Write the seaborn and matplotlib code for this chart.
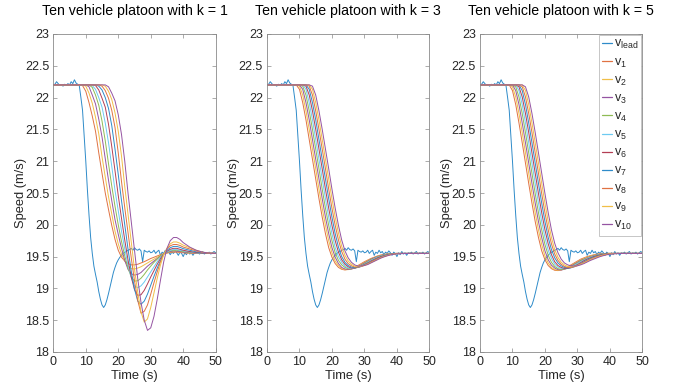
import numpy as np
import pandas as pd
import matplotlib
matplotlib.use("Agg")
import matplotlib.pyplot as plt
from matplotlib.lines import Line2D
from matplotlib.colors import to_rgb
import seaborn as sns

# ---------------- data ----------------
TITLES = ["Ten vehicle platoon with k = 1", "Ten vehicle platoon with k = 3", "Ten vehicle platoon with k = 5"]
LABELS = ["$v_{lead}$", "$v_1$", "$v_2$", "$v_3$", "$v_4$", "$v_5$", "$v_6$", "$v_7$", "$v_8$", "$v_9$", "$v_{10}$"]
X_TICKS = [0, 10, 20, 30, 40, 50]
Y_TICKS = [18, 18.5, 19, 19.5, 20, 20.5, 21, 21.5, 22, 22.5, 23]

# lead vehicle speed, sampled every 0.5 s from 0 to 50 s
LEAD_T = np.arange(0, 50.5, 0.5)
LEAD_V = [22.2, 22.21, 22.25, 22.22, 22.19, 22.2, 22.18, 22.21, 22.19, 22.22,
          22.2, 22.25, 22.22, 22.28, 22.23, 22.21, 22.19, 22.0, 21.8, 21.4,
          21.0, 20.55, 20.15, 19.8, 19.55, 19.35, 19.22, 19.1, 18.95, 18.83,
          18.74, 18.7, 18.74, 18.82, 18.92, 19.03, 19.14, 19.25, 19.33, 19.4,
          19.45, 19.49, 19.52, 19.55, 19.57, 19.58, 19.6, 19.61, 19.63, 19.6,
          19.64, 19.61, 19.6, 19.62, 19.59, 19.42, 19.6, 19.58, 19.57, 19.59,
          19.56, 19.57, 19.6, 19.55, 19.58, 19.6, 19.52, 19.57, 19.55, 19.6,
          19.56, 19.58, 19.53, 19.57, 19.55, 19.59, 19.56, 19.52, 19.57, 19.55,
          19.5, 19.56, 19.53, 19.58, 19.54, 19.56, 19.52, 19.56, 19.55, 19.57,
          19.54, 19.56, 19.58, 19.54, 19.56, 19.55, 19.57, 19.54, 19.56, 19.58,
          19.56]

# follower sample times (s)
FOL_T = [0, 2, 4, 6, 8, 9, 10, 11, 12, 13, 14, 15, 16, 17, 18, 19, 20, 21, 22, 23, 24,
         25, 26, 27, 28, 29, 30, 31, 32, 33, 34, 35, 36, 37, 38, 39, 40, 42, 44, 46, 48, 50]

# ---- k = 1 ----
K1_V1 = [22.2, 22.2, 22.2, 22.2, 22.2, 22.19, 22.1, 21.92, 21.71, 21.47, 21.13, 20.81, 20.5, 20.24, 19.99, 19.77, 19.6, 19.49, 19.43, 19.39, 19.37, 19.37, 19.38, 19.4, 19.42, 19.445, 19.47, 19.49, 19.51, 19.53, 19.545, 19.555, 19.565, 19.57, 19.57, 19.565, 19.56, 19.555, 19.55, 19.55, 19.55, 19.55]
K1_V2 = [22.2, 22.2, 22.2, 22.2, 22.2, 22.2, 22.18, 22.07, 21.91, 21.69, 21.43, 21.07, 20.75, 20.44, 20.17, 19.9, 19.7, 19.54, 19.43, 19.35, 19.31, 19.305, 19.32, 19.34, 19.37, 19.4, 19.43, 19.46, 19.49, 19.52, 19.545, 19.56, 19.575, 19.58, 19.58, 19.575, 19.565, 19.56, 19.555, 19.55, 19.55, 19.55]
K1_V3 = [22.2, 22.2, 22.2, 22.2, 22.2, 22.2, 22.2, 22.17, 22.04, 21.9, 21.66, 21.38, 21.04, 20.7, 20.38, 20.08, 19.85, 19.63, 19.44, 19.3, 19.23, 19.21, 19.22, 19.25, 19.3, 19.35, 19.39, 19.43, 19.47, 19.51, 19.545, 19.565, 19.58, 19.59, 19.585, 19.58, 19.57, 19.565, 19.555, 19.55, 19.55, 19.55]
K1_V4 = [22.2, 22.2, 22.2, 22.2, 22.2, 22.2, 22.2, 22.2, 22.16, 22.04, 21.88, 21.63, 21.32, 20.96, 20.61, 20.29, 20.0, 19.74, 19.51, 19.32, 19.18, 19.115, 19.12, 19.16, 19.22, 19.29, 19.35, 19.41, 19.46, 19.51, 19.545, 19.57, 19.59, 19.6, 19.6, 19.59, 19.58, 19.57, 19.56, 19.555, 19.55, 19.55]
K1_V5 = [22.2, 22.2, 22.2, 22.2, 22.2, 22.2, 22.2, 22.2, 22.19, 22.13, 22.0, 21.85, 21.6, 21.29, 20.92, 20.54, 20.22, 19.9, 19.62, 19.37, 19.17, 19.04, 19.01, 19.04, 19.1, 19.18, 19.26, 19.34, 19.42, 19.49, 19.54, 19.575, 19.6, 19.61, 19.61, 19.6, 19.59, 19.575, 19.56, 19.555, 19.55, 19.55]
K1_V6 = [22.2, 22.2, 22.2, 22.2, 22.2, 22.2, 22.2, 22.2, 22.2, 22.19, 22.12, 21.99, 21.85, 21.58, 21.23, 20.85, 20.46, 20.1, 19.76, 19.45, 19.18, 18.98, 18.89, 18.9, 18.97, 19.07, 19.18, 19.28, 19.38, 19.47, 19.54, 19.585, 19.615, 19.63, 19.63, 19.615, 19.6, 19.58, 19.565, 19.555, 19.55, 19.55]
K1_V7 = [22.2, 22.2, 22.2, 22.2, 22.2, 22.2, 22.2, 22.2, 22.2, 22.2, 22.18, 22.12, 22.0, 21.83, 21.56, 21.19, 20.79, 20.38, 20.0, 19.62, 19.27, 18.99, 18.8, 18.75, 18.8, 18.91, 19.05, 19.19, 19.32, 19.44, 19.54, 19.6, 19.64, 19.66, 19.66, 19.645, 19.625, 19.6, 19.575, 19.56, 19.555, 19.55]
K1_V8 = [22.2, 22.2, 22.2, 22.2, 22.2, 22.2, 22.2, 22.2, 22.2, 22.2, 22.2, 22.18, 22.11, 21.99, 21.8, 21.53, 21.13, 20.68, 20.27, 19.88, 19.48, 19.12, 18.81, 18.61, 18.64, 18.74, 18.91, 19.09, 19.26, 19.42, 19.54, 19.62, 19.67, 19.69, 19.69, 19.675, 19.65, 19.62, 19.59, 19.565, 19.555, 19.55]
K1_V9 = [22.2, 22.2, 22.2, 22.2, 22.2, 22.2, 22.2, 22.2, 22.2, 22.2, 22.2, 22.2, 22.18, 22.1, 21.97, 21.76, 21.47, 21.08, 20.6, 20.17, 19.73, 19.3, 18.94, 18.63, 18.47, 18.52, 18.7, 18.93, 19.16, 19.37, 19.53, 19.63, 19.7, 19.73, 19.73, 19.71, 19.68, 19.64, 19.6, 19.57, 19.555, 19.55]
K1_V10 = [22.2, 22.2, 22.2, 22.2, 22.2, 22.2, 22.2, 22.2, 22.2, 22.2, 22.2, 22.2, 22.2, 22.17, 22.07, 21.95, 21.73, 21.42, 21.0, 20.5, 20.05, 19.6, 19.15, 18.78, 18.5, 18.34, 18.38, 18.56, 18.83, 19.13, 19.42, 19.63, 19.75, 19.8, 19.8, 19.77, 19.72, 19.65, 19.6, 19.57, 19.555, 19.55]

# ---- k = 3 ----
K3_V1 = [22.2, 22.2, 22.2, 22.2, 22.2, 22.2, 22.13, 21.92, 21.65, 21.34, 21.03, 20.72, 20.41, 20.12, 19.86, 19.64, 19.49, 19.39, 19.33, 19.3, 19.29, 19.3, 19.31, 19.33, 19.36, 19.39, 19.42, 19.445, 19.47, 19.49, 19.51, 19.525, 19.535, 19.54, 19.545, 19.548, 19.55, 19.55, 19.55, 19.55, 19.55, 19.55]
K3_V2 = [22.2, 22.2, 22.2, 22.2, 22.2, 22.2, 22.18, 22.04, 21.79, 21.5, 21.19, 20.88, 20.56, 20.26, 19.99, 19.75, 19.56, 19.43, 19.36, 19.31, 19.295, 19.295, 19.305, 19.32, 19.35, 19.38, 19.41, 19.44, 19.465, 19.485, 19.505, 19.52, 19.53, 19.54, 19.545, 19.548, 19.55, 19.55, 19.55, 19.55, 19.55, 19.55]
K3_V3 = [22.2, 22.2, 22.2, 22.2, 22.2, 22.2, 22.2, 22.13, 21.92, 21.65, 21.34, 21.03, 20.72, 20.41, 20.12, 19.86, 19.64, 19.49, 19.39, 19.33, 19.305, 19.3, 19.305, 19.32, 19.34, 19.37, 19.4, 19.43, 19.46, 19.48, 19.5, 19.515, 19.53, 19.538, 19.544, 19.548, 19.55, 19.55, 19.55, 19.55, 19.55, 19.55]
K3_V4 = [22.2, 22.2, 22.2, 22.2, 22.2, 22.2, 22.2, 22.18, 22.04, 21.79, 21.5, 21.19, 20.88, 20.56, 20.26, 19.99, 19.75, 19.56, 19.44, 19.37, 19.33, 19.31, 19.31, 19.32, 19.34, 19.36, 19.39, 19.42, 19.45, 19.47, 19.495, 19.51, 19.525, 19.535, 19.542, 19.547, 19.55, 19.55, 19.55, 19.55, 19.55, 19.55]
K3_V5 = [22.2, 22.2, 22.2, 22.2, 22.2, 22.2, 22.2, 22.2, 22.13, 21.92, 21.65, 21.34, 21.03, 20.72, 20.41, 20.12, 19.86, 19.64, 19.5, 19.41, 19.35, 19.32, 19.315, 19.32, 19.33, 19.355, 19.38, 19.41, 19.44, 19.465, 19.49, 19.505, 19.52, 19.532, 19.54, 19.546, 19.55, 19.55, 19.55, 19.55, 19.55, 19.55]
K3_V6 = [22.2, 22.2, 22.2, 22.2, 22.2, 22.2, 22.2, 22.2, 22.18, 22.04, 21.79, 21.5, 21.19, 20.88, 20.56, 20.26, 19.99, 19.75, 19.57, 19.45, 19.38, 19.34, 19.32, 19.32, 19.33, 19.35, 19.375, 19.4, 19.43, 19.455, 19.48, 19.5, 19.515, 19.528, 19.538, 19.545, 19.55, 19.55, 19.55, 19.55, 19.55, 19.55]
K3_V7 = [22.2, 22.2, 22.2, 22.2, 22.2, 22.2, 22.2, 22.2, 22.2, 22.13, 21.92, 21.65, 21.34, 21.03, 20.72, 20.41, 20.12, 19.86, 19.65, 19.5, 19.41, 19.36, 19.335, 19.325, 19.33, 19.345, 19.37, 19.395, 19.42, 19.445, 19.47, 19.49, 19.51, 19.525, 19.535, 19.543, 19.548, 19.549, 19.55, 19.55, 19.55, 19.55]
K3_V8 = [22.2, 22.2, 22.2, 22.2, 22.2, 22.2, 22.2, 22.2, 22.2, 22.18, 22.04, 21.79, 21.5, 21.19, 20.88, 20.56, 20.26, 19.99, 19.76, 19.58, 19.46, 19.39, 19.355, 19.335, 19.335, 19.345, 19.365, 19.39, 19.415, 19.44, 19.465, 19.485, 19.505, 19.52, 19.532, 19.541, 19.547, 19.549, 19.55, 19.55, 19.55, 19.55]
K3_V9 = [22.2, 22.2, 22.2, 22.2, 22.2, 22.2, 22.2, 22.2, 22.2, 22.2, 22.13, 21.92, 21.65, 21.34, 21.03, 20.72, 20.41, 20.12, 19.87, 19.66, 19.52, 19.43, 19.38, 19.35, 19.34, 19.345, 19.36, 19.38, 19.405, 19.43, 19.455, 19.48, 19.5, 19.515, 19.53, 19.54, 19.546, 19.549, 19.55, 19.55, 19.55, 19.55]
K3_V10 = [22.2, 22.2, 22.2, 22.2, 22.2, 22.2, 22.2, 22.2, 22.2, 22.2, 22.18, 22.04, 21.79, 21.5, 21.19, 20.88, 20.56, 20.26, 19.99, 19.76, 19.59, 19.48, 19.41, 19.37, 19.35, 19.35, 19.36, 19.375, 19.4, 19.425, 19.45, 19.475, 19.495, 19.512, 19.526, 19.537, 19.544, 19.548, 19.55, 19.55, 19.55, 19.55]

# ---- k = 5 ----
K5_V1 = [22.2, 22.2, 22.2, 22.2, 22.2, 22.2, 22.11, 21.89, 21.6, 21.29, 20.97, 20.65, 20.34, 20.05, 19.8, 19.59, 19.45, 19.36, 19.31, 19.285, 19.28, 19.29, 19.31, 19.34, 19.37, 19.4, 19.43, 19.46, 19.48, 19.5, 19.515, 19.528, 19.538, 19.544, 19.548, 19.55, 19.55, 19.55, 19.55, 19.55, 19.55, 19.55]
K5_V2 = [22.2, 22.2, 22.2, 22.2, 22.2, 22.2, 22.17, 22.01, 21.75, 21.45, 21.13, 20.81, 20.49, 20.19, 19.92, 19.69, 19.51, 19.4, 19.33, 19.295, 19.285, 19.29, 19.305, 19.33, 19.36, 19.39, 19.42, 19.45, 19.47, 19.49, 19.51, 19.523, 19.534, 19.542, 19.547, 19.55, 19.55, 19.55, 19.55, 19.55, 19.55, 19.55]
K5_V3 = [22.2, 22.2, 22.2, 22.2, 22.2, 22.2, 22.2, 22.11, 21.89, 21.6, 21.29, 20.97, 20.65, 20.34, 20.05, 19.8, 19.59, 19.45, 19.365, 19.32, 19.295, 19.29, 19.3, 19.32, 19.35, 19.38, 19.41, 19.44, 19.46, 19.48, 19.5, 19.515, 19.528, 19.538, 19.545, 19.549, 19.55, 19.55, 19.55, 19.55, 19.55, 19.55]
K5_V4 = [22.2, 22.2, 22.2, 22.2, 22.2, 22.2, 22.2, 22.17, 22.01, 21.75, 21.45, 21.13, 20.81, 20.49, 20.19, 19.92, 19.69, 19.52, 19.41, 19.345, 19.31, 19.3, 19.305, 19.315, 19.34, 19.37, 19.4, 19.43, 19.455, 19.475, 19.495, 19.51, 19.524, 19.535, 19.543, 19.548, 19.55, 19.55, 19.55, 19.55, 19.55, 19.55]
K5_V5 = [22.2, 22.2, 22.2, 22.2, 22.2, 22.2, 22.2, 22.2, 22.11, 21.89, 21.6, 21.29, 20.97, 20.65, 20.34, 20.05, 19.8, 19.6, 19.47, 19.38, 19.335, 19.315, 19.31, 19.315, 19.33, 19.36, 19.39, 19.42, 19.445, 19.47, 19.49, 19.505, 19.52, 19.532, 19.541, 19.547, 19.55, 19.55, 19.55, 19.55, 19.55, 19.55]
K5_V6 = [22.2, 22.2, 22.2, 22.2, 22.2, 22.2, 22.2, 22.2, 22.17, 22.01, 21.75, 21.45, 21.13, 20.81, 20.49, 20.19, 19.92, 19.7, 19.53, 19.42, 19.36, 19.33, 19.315, 19.315, 19.325, 19.35, 19.375, 19.405, 19.435, 19.46, 19.48, 19.5, 19.515, 19.528, 19.538, 19.545, 19.55, 19.55, 19.55, 19.55, 19.55, 19.55]
K5_V7 = [22.2, 22.2, 22.2, 22.2, 22.2, 22.2, 22.2, 22.2, 22.2, 22.11, 21.89, 21.6, 21.29, 20.97, 20.65, 20.34, 20.05, 19.8, 19.61, 19.48, 19.4, 19.355, 19.33, 19.32, 19.325, 19.34, 19.365, 19.39, 19.42, 19.445, 19.47, 19.49, 19.507, 19.522, 19.534, 19.542, 19.548, 19.549, 19.55, 19.55, 19.55, 19.55]
K5_V8 = [22.2, 22.2, 22.2, 22.2, 22.2, 22.2, 22.2, 22.2, 22.2, 22.17, 22.01, 21.75, 21.45, 21.13, 20.81, 20.49, 20.19, 19.92, 19.7, 19.54, 19.44, 19.38, 19.345, 19.33, 19.33, 19.34, 19.36, 19.385, 19.41, 19.435, 19.46, 19.48, 19.5, 19.516, 19.53, 19.54, 19.546, 19.549, 19.55, 19.55, 19.55, 19.55]
K5_V9 = [22.2, 22.2, 22.2, 22.2, 22.2, 22.2, 22.2, 22.2, 22.2, 22.2, 22.11, 21.89, 21.6, 21.29, 20.97, 20.65, 20.34, 20.05, 19.8, 19.61, 19.49, 19.41, 19.37, 19.345, 19.34, 19.345, 19.36, 19.38, 19.4, 19.425, 19.45, 19.47, 19.49, 19.508, 19.523, 19.535, 19.543, 19.548, 19.55, 19.55, 19.55, 19.55]
K5_V10 = [22.2, 22.2, 22.2, 22.2, 22.2, 22.2, 22.2, 22.2, 22.2, 22.2, 22.17, 22.01, 21.75, 21.45, 21.13, 20.81, 20.49, 20.19, 19.92, 19.71, 19.56, 19.46, 19.4, 19.37, 19.355, 19.35, 19.355, 19.37, 19.39, 19.415, 19.44, 19.46, 19.48, 19.5, 19.515, 19.528, 19.538, 19.546, 19.55, 19.55, 19.55, 19.55]

PANELS = [
    [K1_V1, K1_V2, K1_V3, K1_V4, K1_V5, K1_V6, K1_V7, K1_V8, K1_V9, K1_V10],
    [K3_V1, K3_V2, K3_V3, K3_V4, K3_V5, K3_V6, K3_V7, K3_V8, K3_V9, K3_V10],
    [K5_V1, K5_V2, K5_V3, K5_V4, K5_V5, K5_V6, K5_V7, K5_V8, K5_V9, K5_V10],
]

# ---------------- style ----------------
MATLAB = ["#0072BD", "#D95319", "#EDB120", "#7E2F8E", "#77AC30", "#4DBEEE", "#A2142F"]


def lighten(c, f=0.18):
    r, g, b = to_rgb(c)
    return (r + (1 - r) * f, g + (1 - g) * f, b + (1 - b) * f)


COLORS = [lighten(MATLAB[i % 7]) for i in range(11)]

sns.set_theme(style="ticks")
plt.rcParams.update({
    "font.family": ["Liberation Sans", "DejaVu Sans"],
    "mathtext.default": "regular",
    "xtick.direction": "in",
    "ytick.direction": "in",
    "xtick.top": True,
    "ytick.right": True,
    "axes.linewidth": 0.6,
    "axes.edgecolor": "#8a8a8a",
    "xtick.color": "#8a8a8a",
    "ytick.color": "#8a8a8a",
    "xtick.labelcolor": "#262626",
    "ytick.labelcolor": "#262626",
})

W, H = 674, 390
fig = plt.figure(figsize=(W / 100, H / 100), dpi=100)
lefts = [53.3, 267.0, 480.0]
ax_w, ax_top, ax_bot = 162.4, 34.0, 352.0

order = ["lead"] + [f"v{i}" for i in range(1, 11)]
for p, (left, title, fols) in enumerate(zip(lefts, TITLES, PANELS)):
    ax = fig.add_axes([left / W, 1 - ax_bot / H, ax_w / W, (ax_bot - ax_top) / H])
    frames = [pd.DataFrame({"time": LEAD_T, "speed": LEAD_V, "vehicle": "lead"})]
    for i, vals in enumerate(fols):
        frames.append(pd.DataFrame({"time": FOL_T, "speed": vals, "vehicle": f"v{i + 1}"}))
    df = pd.concat(frames, ignore_index=True)
    sns.lineplot(data=df, x="time", y="speed", hue="vehicle", hue_order=order,
                 palette=COLORS, estimator=None, sort=False, linewidth=0.7,
                 legend=False, ax=ax)
    ax.set_xlim(0, 50)
    ax.set_ylim(18, 23)
    ax.set_xticks(X_TICKS)
    ax.set_yticks(Y_TICKS)
    ax.set_yticklabels([f"{v:g}" for v in Y_TICKS])
    ax.tick_params(length=3, width=0.5, labelsize=9, pad=3)
    for s in ax.spines.values():
        s.set_visible(True)
        s.set_color("#8a8a8a")
        s.set_linewidth(0.6)
    ax.set_xlabel("Time (s)", fontsize=9.3, color="#262626", labelpad=1)
    ax.set_ylabel("Speed (m/s)", fontsize=9.3, color="#262626")
    ax.yaxis.set_label_coords(-0.165, 0.5)
    ax.set_title(title, fontsize=10.2, color="#000000", pad=14)
    if p == 2:
        handles = [Line2D([0], [0], color=c, lw=0.9) for c in COLORS]
        leg = ax.legend(handles, LABELS, loc="upper right", fontsize=9,
                        handlelength=0.75, handletextpad=0.15, labelspacing=0.4,
                        borderpad=0.25, borderaxespad=0.1, fancybox=False,
                        framealpha=1, edgecolor="#bdbdbd")
        leg.get_frame().set_linewidth(0.6)

fig.savefig("out.png", dpi=100)
